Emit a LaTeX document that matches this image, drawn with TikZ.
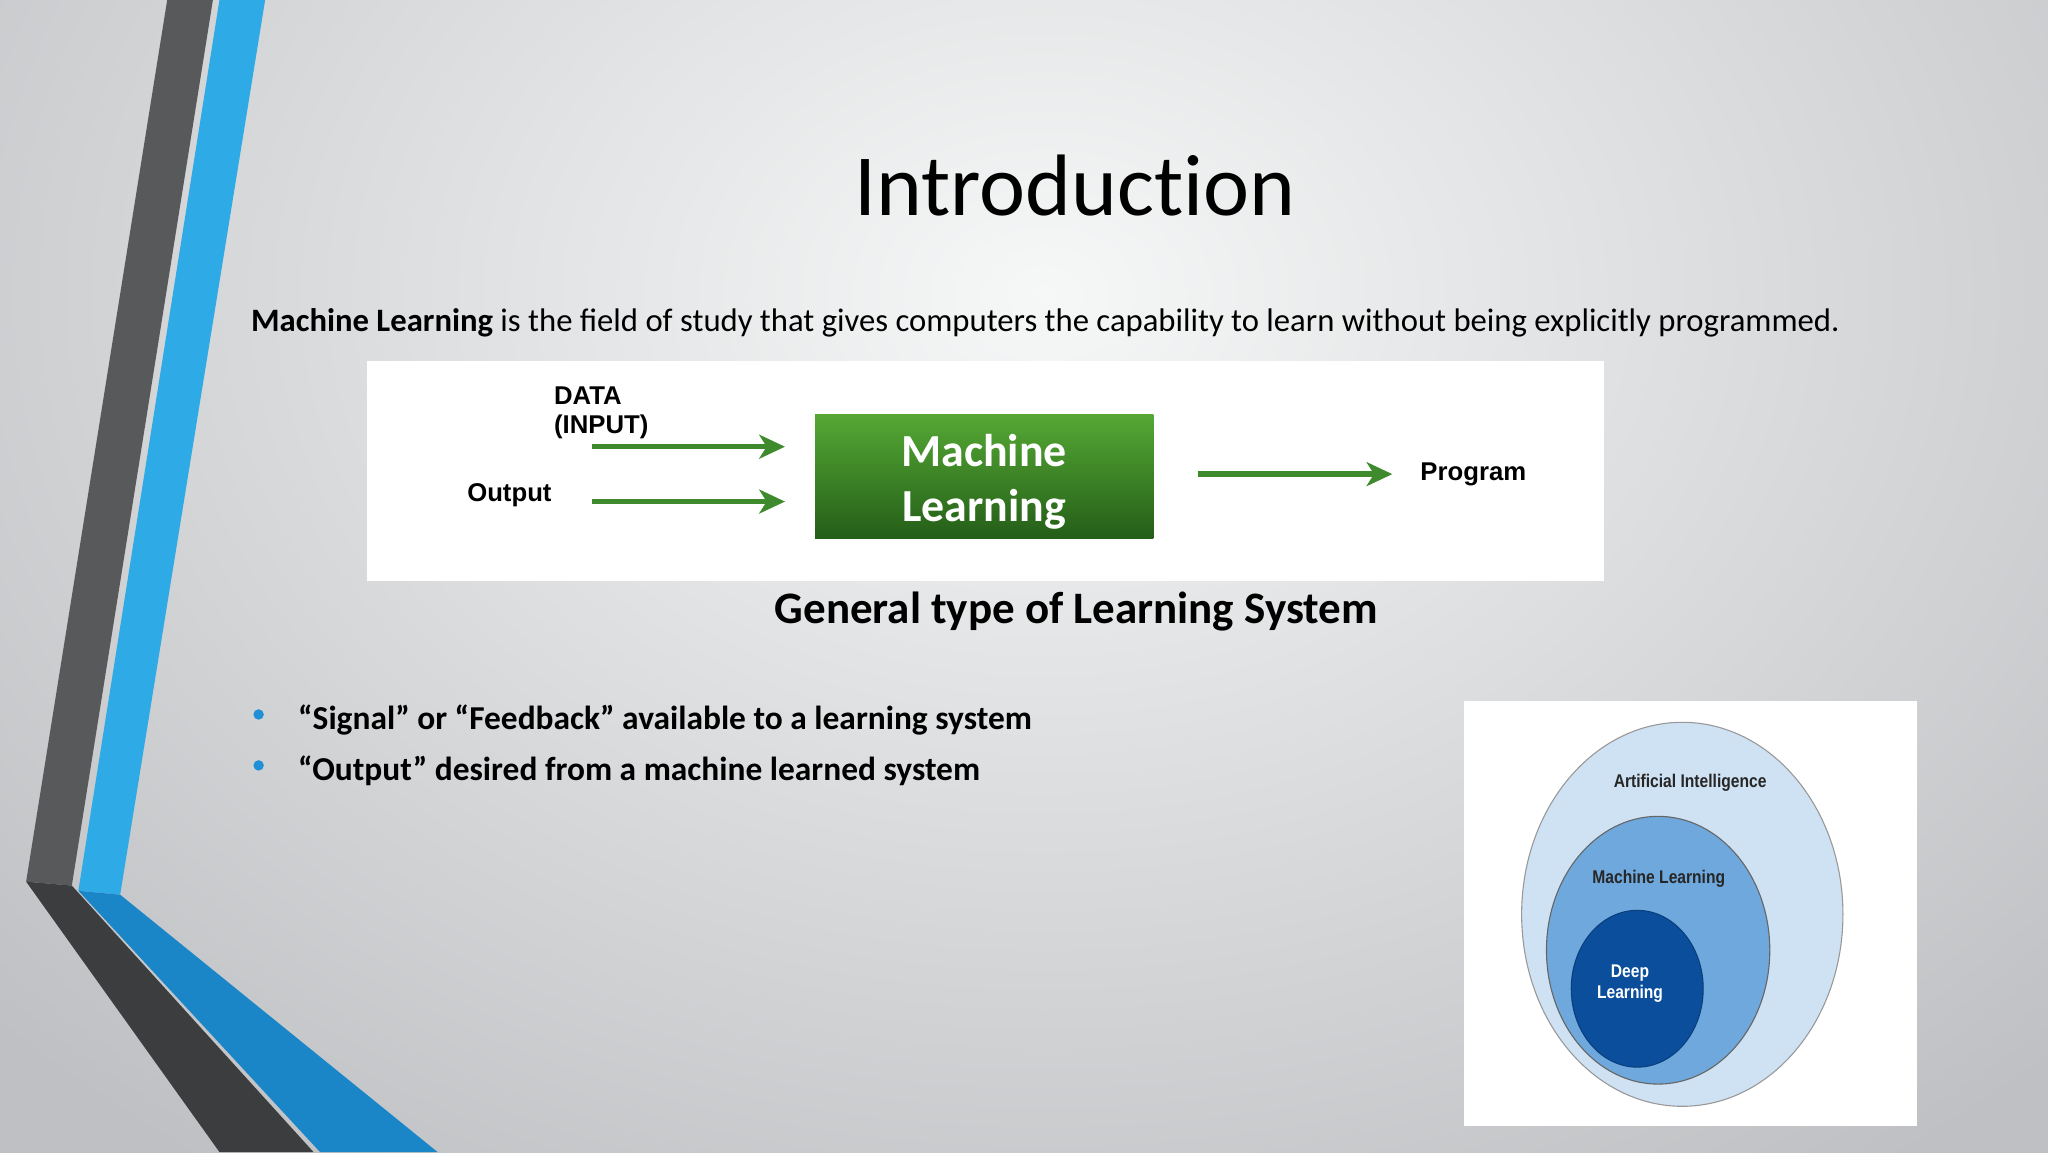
\documentclass[tikz,border=0pt]{standalone}
\usepackage{fontspec}
\setmainfont{Carlito}
\newfontfamily\arialf{Liberation Sans}
\usetikzlibrary{arrows.meta,shapes.geometric}
\definecolor{dkband}{HTML}{58595B}
\definecolor{dkband2}{HTML}{3C3D3F}
\definecolor{blband}{HTML}{2EAAE6}
\definecolor{blband2}{HTML}{1A86C8}
\definecolor{grn}{HTML}{3F8A2C}
\definecolor{mltop}{HTML}{55A834}
\definecolor{mlbot}{HTML}{245E18}
\definecolor{bullet}{HTML}{1F8FD6}
\definecolor{aiC}{HTML}{CFE2F3}
\definecolor{mlC}{HTML}{6FA8DC}
\definecolor{dlC}{HTML}{0B4F9C}
\definecolor{bgin}{HTML}{F6F7F7}
\definecolor{bgout}{HTML}{BEC0C3}
\tikzset{
  garrow/.style={draw=grn,line width=3pt,-{Stealth[length=14pt,width=13pt,inset=4pt]}},
  lbl/.style={font=\arialf\bfseries\fontsize{14}{16}\selectfont,inner sep=0pt},
  venn/.style={font=\arialf\bfseries\fontsize{10}{11.5}\selectfont,xscale=0.85,inner sep=0pt,align=center},
  bul/.style={font=\bfseries\fontsize{18.2}{21}\selectfont,anchor=west,inner sep=0pt},
}
\begin{document}
\begin{tikzpicture}[x=0.25mm,y=-0.25mm]
\useasboundingbox (0,0) rectangle (1568,882);
\fill[bgout] (0,0) rectangle (1568,882);
\shade[inner color=bgin, outer color=bgout] (-300,-600) rectangle (1900,1050);
% left bands
\fill[dkband] (128,0) -- (163,0) -- (55,678) -- (20,675) -- cycle;
\fill[dkband2] (20,675) -- (55,678) -- (240,882) -- (168,882) -- cycle;
\fill[blband] (168,0) -- (203,0) -- (92,685) -- (60,682) -- cycle;
\fill[blband2] (60,682) -- (92,685) -- (335,882) -- (245,882) -- cycle;
% title
\node[font=\fontsize{47.5}{56}\selectfont\addfontfeature{Ligatures=NoCommon}] (title) at (823,142) {Introduction};
\node[anchor=west,inner sep=0pt,font=\fontsize{17.8}{21}\selectfont] (def) at (192,247) {\textbf{Machine Learning} is the field of study that gives computers the capability to learn without being explicitly programmed.};
% ML diagram
\fill[white] (281,276) rectangle (1228,445);
\shade[top color=mltop, bottom color=mlbot] (624,317) rectangle (883,412);
\node[minimum width=259*0.25mm,minimum height=95*0.25mm,inner sep=0pt,text=white,align=center,font=\bfseries\fontsize{25}{30}\selectfont] (ml) at (753.5,369) {Machine\\Learning};
\node[lbl,anchor=west,align=left] (data) at (424,316) {DATA\\(INPUT)};
\node[lbl] (out) at (390,379) {Output};
\node[lbl] (prog) at (1128,363) {Program};
\coordinate (a1s) at (453,342); \coordinate (a1e) at (601,342);
\coordinate (a2s) at (453,384); \coordinate (a2e) at (601,384);
\coordinate (a3s) at (917,363); \coordinate (a3e) at (1066,363);
\draw[garrow] (a1s) -- (a1e);
\draw[garrow] (a2s) -- (a2e);
\draw[garrow] (a3s) -- (a3e);
\node[font=\bfseries\fontsize{24.5}{28}\selectfont] (cap) at (824,468) {General type of Learning System};
% bullets
\fill[bullet] (198,547) circle (4);
\fill[bullet] (198,586) circle (4);
\node[bul] (b1) at (228,551) {“Signal” or “Feedback” available to a learning system};
\node[bul] (b2) at (228,590) {“Output” desired from a machine learned system};
% Venn
\fill[white] (1121,537) rectangle (1468,862);
\filldraw[fill=aiC,draw=gray!80,line width=0.6pt] (1288,700) ellipse [x radius=123, y radius=147];
\filldraw[fill=mlC,draw=gray!80!black,line width=0.6pt] (1269.5,727.5) ellipse [x radius=85.5, y radius=102.5];
\filldraw[fill=dlC,draw=dlC!80!black,line width=0.6pt] (1253.5,757) ellipse [x radius=50.5, y radius=60];
\node[venn,text=black!85] (ai) at (1294,599) {Artificial Intelligence};
\node[venn,text=black!85] (mlv) at (1270,673) {Machine Learning};
\node[venn,text=white] (dl) at (1248,753) {Deep\\Learning};
\end{tikzpicture}
\end{document}
